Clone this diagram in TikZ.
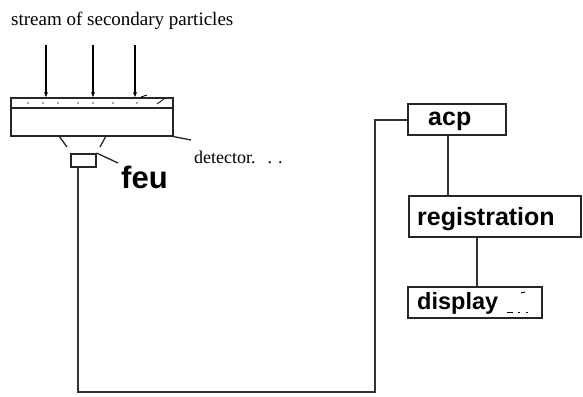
\documentclass[tikz,border=0pt]{standalone}
\usepackage{fontspec}
\setmainfont{Liberation Serif}
\newfontfamily\labelfont{Liberation Sans}
\usetikzlibrary{arrows.meta}
\begin{document}
\begin{tikzpicture}[x=1pt,y=-1pt,
  wire/.style={line width=1.6pt, draw=black!80},
  boxed/.style={draw=black!85, line width=1.8pt, inner sep=0pt},
  boxtext/.style={anchor=base west, inner sep=0pt, font=\labelfont\bfseries\fontsize{25}{25}\selectfont},
  thin/.style={line width=1.3pt, draw=black!85},
  partarrow/.style={line width=1.4pt, -{Stealth[length=5pt,width=4pt]}}]
\useasboundingbox (0,0) rectangle (583,396);
% title
\node[anchor=base west, font=\fontsize{19}{19}\selectfont, inner sep=0pt] (title) at (11,26) {stream of secondary particles};
% detector
\node[draw=black!85, line width=1.6pt, minimum width=162pt, minimum height=38pt, inner sep=0pt, anchor=north west] (det) at (10,97) {};
\draw[thin] (det.west |- 0,108) -- (det.east |- 0,108);
\foreach \x in {28,43,58,78,93,113,137} \fill[black!70] (\x,103) circle (0.8pt);
\draw[line width=0.8pt] (141,97) -- (147,95);
\draw[line width=0.8pt] (157,104) -- (164,99);
% arrows
\foreach \x/\n in {46/a,93/b,135/c}{
  \coordinate (s\n) at (\x,45);
  \coordinate (e\n) at (\x,97);
  \draw[partarrow] (s\n) -- (e\n);
}
% funnel
\coordinate (f1) at (59,136); \coordinate (f2) at (67,147);
\coordinate (f3) at (106,136); \coordinate (f4) at (100,147);
\draw[thin] (f1) -- (f2);
\draw[thin] (f3) -- (f4);
% feu box
\node[draw=black!85, line width=1.6pt, minimum width=25pt, minimum height=13pt, inner sep=0pt, anchor=north west] (pmt) at (70,153) {};
\coordinate (feuline) at (118,163);
\draw[thin] (pmt.north east) -- (feuline);
\node[anchor=base west, inner sep=0pt, font=\labelfont\bfseries\fontsize{31}{31}\selectfont] (feu) at (121,188) {feu};
% detector label
\coordinate (detline) at (191,140);
\draw[thin] (det.south east) -- (detline);
\node[anchor=base west, inner sep=0pt, font=\fontsize{18}{18}\selectfont] (detlabel) at (194,163) {detector.\hspace{12pt}. .};
% right boxes
\node[boxed, minimum width=98pt, minimum height=31pt] (acp) at (457,119.5) {};
\node[boxtext] (acpt) at (428,125) {acp};
\node[boxed, minimum width=172pt, minimum height=41pt] (reg) at (495,216.5) {};
\node[boxtext] (regt) at (417,225) {registration};
\node[boxed, minimum width=134pt, minimum height=31pt] (disp) at (475,302.5) {};
\node[boxtext, font=\labelfont\bfseries\fontsize{23.5}{24}\selectfont] (dispt) at (417,309) {display};
\draw[line width=1pt] (521,293) -- (525,292);
\draw[line width=0.8pt] (507,312) -- (513,312);
\draw[line width=0.8pt] (518,312) -- (520,312);
\draw[line width=0.8pt] (526,312) -- (528,312);
% connectors
\draw[wire] ([xshift=-9pt]acp.south) -- ([xshift=-9pt]acp.south |- reg.north);
\draw[wire] ([xshift=-18pt]reg.south) -- ([xshift=-18pt]reg.south |- disp.north);
\coordinate (c1) at (78,392);
\coordinate (c2) at (375,392);
\coordinate (c3) at (375,120);
\draw[wire] (pmt.south -| 78,0) -- (c1) -- (c2) -- (c3) -- (acp.west |- c3);
\end{tikzpicture}
\end{document}
